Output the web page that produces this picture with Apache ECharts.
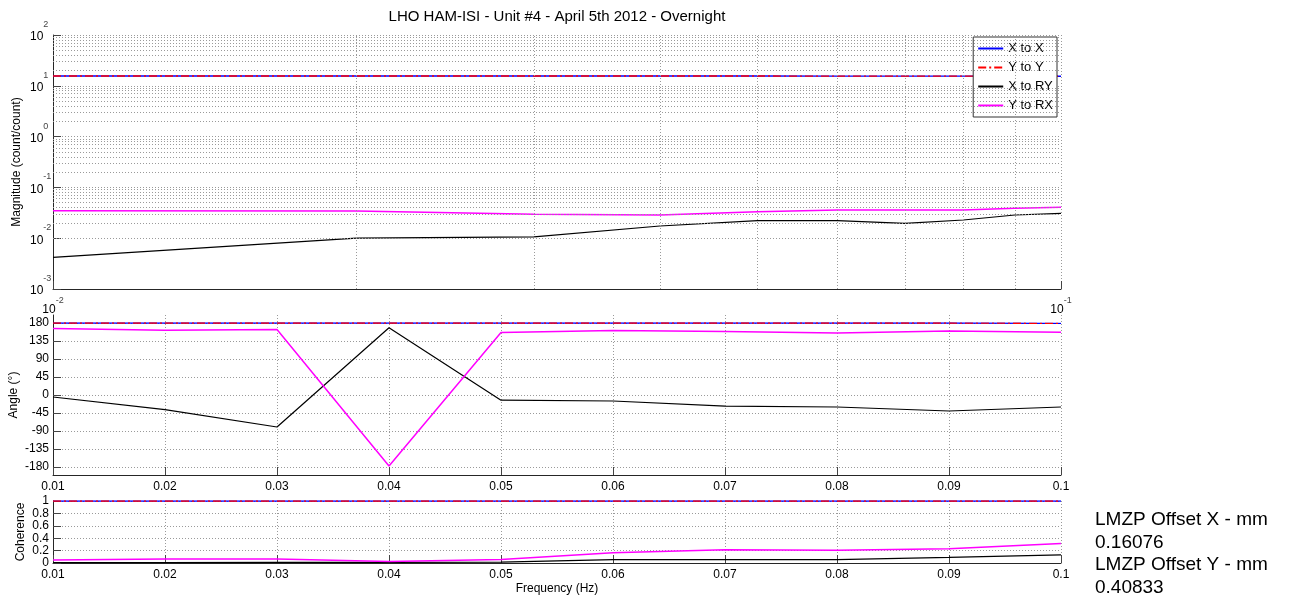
<!DOCTYPE html>
<html>
<head>
<meta charset="utf-8">
<script src="https://cdn.jsdelivr.net/npm/echarts@6.0.0/dist/echarts.min.js"></script>
<style>
html,body{margin:0;padding:0;background:#fff;}
#c{width:1299px;height:596px;}
</style>
</head>
<body>
<div id="c"></div>
<script>
// ---- data ----
const freq = [0.01, 0.02, 0.03, 0.04, 0.05, 0.06, 0.07, 0.08, 0.09, 0.1];
const magXX  = [15.6, 15.6, 15.6, 15.6, 15.6, 15.5, 15.5, 15.5, 15.4, 15.4];
const magYY  = [15.6, 15.6, 15.6, 15.6, 15.6, 15.5, 15.5, 15.5, 15.4, 15.4];
const magXRY = [0.0042, 0.0100, 0.0106, 0.0174, 0.0221, 0.0221, 0.0196, 0.0228, 0.0286, 0.0309];
const magYRX = [0.0348, 0.0343, 0.0295, 0.0286, 0.0333, 0.0359, 0.0359, 0.0359, 0.0388, 0.0406];
const phXX  = [180, 180, 180, 180, 180, 180, 180, 180, 180, 179];
const phYY  = [180, 180, 180, 180, 180, 180, 180, 180, 180, 179];
const phXRY = [-5, -36.5, -80, 168, -13, -15, -28, -30, -40, -30];
const phYRX = [166, 162, 163.5, -177.5, 156, 161, 158.5, 155, 160, 157];
const cohXX  = [1, 1, 1, 1, 1, 1, 1, 1, 1, 1];
const cohYY  = [1, 1, 1, 1, 1, 1, 1, 1, 1, 1];
const cohXRY = [0.006, 0.006, 0.01, 0.01, 0.015, 0.055, 0.055, 0.055, 0.09, 0.13];
const cohYRX = [0.05, 0.065, 0.065, 0.025, 0.055, 0.165, 0.215, 0.205, 0.23, 0.315];
const seriesNames = ['X to X', 'Y to Y', 'X to RY', 'Y to RX'];
const titleText = 'LHO HAM-ISI - Unit #4 - April 5th 2012 - Overnight';
const sideTexts = ['LMZP Offset X - mm', '0.16076', 'LMZP Offset Y - mm', '0.40833'];
const decadeMantissas = [2, 3, 4, 5, 6, 7, 8, 9];

// ---- styles ----
const FONT = "'Liberation Sans', Arial, Helvetica, sans-serif";
const gridLineStyle = { color: '#9a9a9a', type: [1, 2], width: 1 };
const axisColor = '#262626';
const colors = ['#0000ff', '#ff0000', '#000000', '#ff00ff'];
const lineStyles = [
  { color: colors[0], width: 1.3, type: 'solid' },
  { color: colors[1], width: 1.3, type: [8, 3, 2, 3] },
  { color: colors[2], width: 1.2, type: 'solid' },
  { color: colors[3], width: 1.5, type: 'solid' }
];
const pairs = arr => freq.map((f, i) => [f, arr[i]]);
const powLabel = v => '{b|10}{s|' + Math.round(Math.log10(v)) + '}';

// minor grid for the log plot
const minorY = [];
for (let e = -3; e <= 1; e++) decadeMantissas.forEach(m => minorY.push(+(m * Math.pow(10, e)).toPrecision(3)));
const minorX = decadeMantissas.map(m => +(m * 0.01).toPrecision(3));

function mkSeries(name, idx, data, ax) {
  return {
    name: name, type: 'line', xAxisIndex: ax, yAxisIndex: ax,
    data: data, symbol: 'none', showSymbol: false, z: 3,
    lineStyle: lineStyles[idx], itemStyle: { color: colors[idx] },
    emphasis: { disabled: true }, animation: false
  };
}

const series = [
  {
    name: '_minor', type: 'line', xAxisIndex: 0, yAxisIndex: 0, data: [], z: 1, silent: true,
    markLine: {
      silent: true, symbol: ['none', 'none'], label: { show: false },
      lineStyle: gridLineStyle, animation: false,
      emphasis: { disabled: true },
      data: minorY.map(v => ({ yAxis: v })).concat(minorX.map(v => ({ xAxis: v })))
    }
  },
  mkSeries(seriesNames[0], 0, pairs(magXX), 0),
  mkSeries(seriesNames[1], 1, pairs(magYY), 0),
  mkSeries(seriesNames[2], 2, pairs(magXRY), 0),
  mkSeries(seriesNames[3], 3, pairs(magYRX), 0),
  mkSeries(seriesNames[0], 0, pairs(phXX), 2),
  mkSeries(seriesNames[1], 1, pairs(phYY), 2),
  mkSeries(seriesNames[2], 2, pairs(phXRY), 2),
  mkSeries(seriesNames[3], 3, pairs(phYRX), 2),
  mkSeries(seriesNames[0], 0, pairs(cohXX), 3),
  mkSeries(seriesNames[1], 1, pairs(cohYY), 3),
  mkSeries(seriesNames[2], 2, pairs(cohXRY), 3),
  mkSeries(seriesNames[3], 3, pairs(cohYRX), 3)
];

const L = 53, W = 1008;
const axisLabelBase = { color: '#000', fontSize: 12, fontFamily: FONT };
const tickInside = len => ({ show: true, inside: true, length: len, lineStyle: { color: '#444' } });
const nameStyle = { fontSize: 12, color: '#000', fontFamily: FONT };

const option = {
  animation: false,
  backgroundColor: '#fff',
  textStyle: { fontFamily: FONT, color: '#000' },
  grid: [
    { left: L, top: 35, width: W, height: 254 },
    { left: L, top: 315, width: W, height: 160 },
    { left: L, top: 323, width: W, height: 144 },
    { left: L, top: 501, width: W, height: 67 }
  ],
  xAxis: [
    {
      gridIndex: 0, type: 'log', logBase: 10, min: 0.01, max: 0.1,
      axisLine: { show: true, onZero: false, lineStyle: { color: axisColor } },
      axisTick: tickInside(8),
      splitLine: { show: true, lineStyle: gridLineStyle },
      axisLabel: {
        show: true, margin: 7, formatter: powLabel, align: 'center',
        rich: {
          b: { fontSize: 12, lineHeight: 28, color: '#000', fontFamily: FONT },
          s: { fontSize: 9, lineHeight: 10, verticalAlign: 'top', color: '#444', fontFamily: FONT }
        }
      }
    },
    {
      gridIndex: 1, type: 'value', min: 0.01, max: 0.1, interval: 0.01,
      axisLine: { show: true, onZero: false, lineStyle: { color: axisColor } },
      axisTick: tickInside(8),
      splitLine: { show: true, lineStyle: gridLineStyle },
      axisLabel: Object.assign({ margin: 6, formatter: v => String(+v.toFixed(2)) }, axisLabelBase)
    },
    {
      gridIndex: 2, type: 'value', min: 0.01, max: 0.1, show: false,
      axisLine: { onZero: false }
    },
    {
      gridIndex: 3, type: 'value', min: 0.01, max: 0.1, interval: 0.01,
      name: 'Frequency (Hz)', nameLocation: 'middle', nameGap: 20, nameMoveOverlap: false,
      nameTextStyle: nameStyle,
      axisLine: { show: true, onZero: false, lineStyle: { color: axisColor } },
      axisTick: tickInside(8),
      splitLine: { show: true, lineStyle: gridLineStyle },
      axisLabel: Object.assign({ margin: 6, formatter: v => String(+v.toFixed(2)) }, axisLabelBase)
    }
  ],
  yAxis: [
    {
      gridIndex: 0, type: 'log', logBase: 10, min: 0.001, max: 100,
      name: 'Magnitude (count/count)', nameLocation: 'middle', nameGap: 30, nameRotate: 90, nameMoveOverlap: false,
      nameTextStyle: nameStyle,
      axisLine: { show: true, onZero: false, lineStyle: { color: axisColor } },
      axisTick: tickInside(8),
      splitLine: { show: true, lineStyle: gridLineStyle },
      axisLabel: {
        show: true, align: 'left', margin: 23, formatter: powLabel,
        showMinLabel: true, showMaxLabel: true,
        rich: {
          b: { fontSize: 12, lineHeight: 30, color: '#000', fontFamily: FONT, padding: [4, 0, 0, 0] },
          s: { fontSize: 9, lineHeight: 10, verticalAlign: 'top', color: '#444', fontFamily: FONT }
        }
      }
    },
    {
      gridIndex: 1, type: 'value', min: -200, max: 200,
      axisLine: { show: true, onZero: false, lineStyle: { color: axisColor } },
      axisTick: { show: false }, axisLabel: { show: false }, splitLine: { show: false }
    },
    {
      gridIndex: 2, type: 'value', min: -180, max: 180, interval: 45,
      name: 'Angle (°)', nameLocation: 'middle', nameGap: 33, nameRotate: 90, nameMoveOverlap: false,
      nameTextStyle: nameStyle,
      axisLine: { show: false, onZero: false },
      axisTick: tickInside(8),
      splitLine: { show: true, lineStyle: gridLineStyle },
      axisLabel: Object.assign({ margin: 4 }, axisLabelBase)
    },
    {
      gridIndex: 3, type: 'value', min: 0, max: 1, interval: 0.2,
      name: 'Coherence', nameLocation: 'middle', nameGap: 26, nameRotate: 90, nameMoveOverlap: false,
      nameTextStyle: nameStyle,
      axisLine: { show: true, onZero: false, lineStyle: { color: axisColor } },
      axisTick: tickInside(8),
      splitLine: { show: true, lineStyle: gridLineStyle },
      axisLabel: Object.assign({ margin: 4, formatter: v => String(+v.toFixed(1)) }, axisLabelBase)
    }
  ],
  legend: {
    data: seriesNames, orient: 'vertical', right: 242, top: 37,
    backgroundColor: '#fff', borderColor: '#333', borderWidth: 1,
    padding: [5, 4, 5, 4], itemGap: 6, itemWidth: 25, itemHeight: 14,
    selectedMode: false,
    itemStyle: { opacity: 0, borderWidth: 0 },
    textStyle: { fontSize: 13, color: '#000', fontFamily: FONT }
  },
  graphic: [
    {
      type: 'text', x: 557, y: 17,
      style: { text: titleText, align: 'center', verticalAlign: 'middle', textAlign: 'center', textVerticalAlign: 'middle',
               font: '15px ' + FONT, fill: '#000' }
    }
  ].concat(sideTexts.map((t, i) => ({
    type: 'text', x: 1095, y: 520 + i * 22.5,
    style: { text: t, align: 'left', verticalAlign: 'middle', textAlign: 'left', textVerticalAlign: 'middle',
             font: '19px ' + FONT, fill: '#000' }
  }))),
  series: series
};

const chart = echarts.init(document.getElementById('c'), null, { renderer: 'canvas' });
chart.setOption(option);
</script>
</body>
</html>
